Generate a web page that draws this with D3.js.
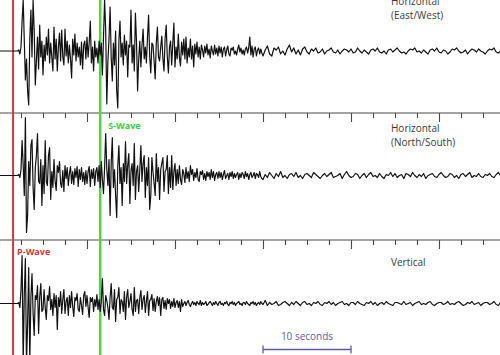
<!DOCTYPE html>
<html lang="en">
<head>
  <meta charset="UTF-8" />
  <title>Seismogram</title>
  <script src="https://d3js.org/d3.v7.min.js"></script>
  <style>
    body { margin: 0; background: #fff; }
    svg { display: block; font-family: "Open Sans", "Liberation Sans", sans-serif; }
    .trace { fill: none; stroke: #111; stroke-width: 1.2; stroke-linejoin: round; }
    .sep path, .sep line { stroke: #4a4a4a; stroke-width: 1.1; }
    .label { fill: #3a3a3a; font-size: 10px; }
  </style>
</head>
<body>
  <div id="chart"></div>

  <script>
    // amplitudes in px (up = positive)
    // burst: one sample every 0.125 s from 0 s, coda: every 0.25 s from 30 s
    const eastWestBurst = [
      0,0,0,0,0,0,0,0,0,0, 0,0,0,0,0,0,0,0,1,-3,
      4,30,51,10,-29,-8,-40,-54,12,41, -6,51,20,-34,-10,14,-18,26,-6,10,
      -24,6,-10,14,-4,22,-12,8,-6,-20, 24,-8,12,-20,4,18,-10,21,-6,-14,
      22,-5,10,-12,6,-8,-27,12,-4,17, -10,8,-6,4,-14,9,-18,6,10,-8,
      14,-6,8,30,-12,4,-20,10,-6,3, -12,10,-4,8,-24,14,51,20,-53,-10,
      12,44,-6,-30,8,-14,20,-40,-57,10, 30,-6,8,-14,16,-4,10,-26,6,4,
      41,-12,6,-20,38,10,-40,-8,10,-16, 6,22,-8,4,-12,14,36,-6,-22,8,
      6,-10,-28,8,24,-6,-10,4,15,-8, -20,12,26,-6,-22,4,10,-14,8,28,
      -16,4,-8,17,-6,-15,9,-4,12,-8, 14,-12,3,-6,12,-8,5,-16,7,-3,
      9,-6,4,-8,6,1,-6,5,-2,7, -4,2,-7,5,0,-4,6,-3,3,-5,
      5,-2,4,-6,2,4,-5,1,5,-3, -5,3,1,4,-3,0,-4,2,6,-1,
      3,-3,1,-4,2,4,-2,3,14,-4, 5,-6,2,4,-5,1,3,-3,2,-2
    ];
    const eastWestCoda = [
      -5,1,5,-3,-5,3,1,4,-3,0,
      -4,2,6,-1,3,-3,1,-4,2,4,
      -1,-3,2,0,3,-2,-1,2,-3,0,
      1,3,-1,-2,1,-3,0,2,1,-1,
      2,-2,-1,3,0,-2,1,-1,-3,1,
      2,0,3,-1,-2,0,-3,1,2,-1,
      1,3,0,-2,-1,-3,0,2,1,3,
      -1,0,-2,1,-1,-3,1,2,0,3,
      -1,-2,1,0,-3,-1,2,1,3,0,
      -2,-1,1,-3,0,2,1,-1,2,0,
      -1,-3,0,2,1,3,-1,-2,0,1
    ];
    const northSouthBurst = [
      0,0,0,0,0,0,0,0,0,0, 0,0,0,0,0,0,0,0,1,-2,
      6,35,10,-20,58,-57,-40,14,-10,30, 36,-12,-34,8,20,42,-6,-8,16,-30,
      10,-18,35,-6,-10,20,28,-24,4,-12, 16,-6,-15,10,3,14,-8,-12,5,-16,
      10,-3,8,-10,2,9,-8,4,-9,7, -2,9,-11,6,-4,8,-6,3,-9,5,
      -8,4,9,-11,6,-3,7,-10,4,8, -6,10,-12,14,-4,-18,8,42,6,-10,
      16,-40,12,38,-12,6,-20,-42,10,30, -8,8,-30,12,-6,34,-8,10,22,-28,
      5,12,-10,32,-24,4,10,-16,6,30, -6,12,20,-22,8,-10,18,-34,-20,18,
      4,-8,-20,22,-6,8,-24,6,12,18, -16,4,6,20,-18,8,-12,20,-14,4,
      12,-10,6,-8,10,-4,-9,6,2,-7, 8,-3,4,-6,10,1,6,-5,3,-2,
      7,-4,-6,4,1,5,-4,2,-5,4, -1,3,-4,6,-2,4,-5,1,3,-3,
      4,-2,3,-4,1,5,-3,0,2,-4, 3,-1,4,-3,2,-2,1,3,-4,2,
      -2,3,1,-3,4,-1,2,-4,1,3, -2,0,3,-3,2,1,-2,4,-1,-3
    ];
    const northSouthCoda = [
      -4,1,-2,3,0,-3,2,-1,4,-2,
      0,-3,1,2,-1,3,-2,0,-3,1,
      2,0,-2,3,1,-1,-3,0,2,-1,
      1,3,-2,-1,0,2,-3,1,4,0,
      -2,-1,2,1,-3,0,2,-2,1,3,
      -1,0,-2,2,-1,-3,1,0,3,-1,
      2,-2,0,1,-3,2,1,-1,3,0,
      -2,1,-1,2,-3,0,1,2,-1,-2,
      1,3,0,-2,-1,2,1,-2,0,-3,
      1,2,-1,1,3,-2,0,-1,2,-1,
      -2,1,0,2,-1,-2,1,3,0,-1
    ];
    const verticalBurst = [
      0,0,0,0,0,0,0,0,0,0, 0,0,0,0,0,0,0,0,1,-4,
      14,48,-60,10,45,-60,-20,36,-58,6, 30,-10,-32,8,4,18,-30,6,20,-8,
      -6,14,-4,-16,8,3,17,-6,4,-12, 10,-4,8,-26,6,-3,12,-10,4,14,
      -10,2,6,-12,8,-4,12,-3,-13,6, 3,10,-6,-8,6,-2,-11,8,12,-3,
      8,-4,-14,6,2,6,-8,4,-3,9, -6,4,-8,2,25,-6,-12,8,3,-4,
      -16,6,20,-4,-6,14,-18,4,6,16, -10,4,2,-8,12,-16,6,14,-4,2,
      10,-6,-12,16,-8,3,4,-10,6,13, -6,4,8,-9,2,12,-12,3,4,9,
      -7,5,-8,2,7,-2,6,-12,4,6, -5,3,-6,5,0,4,-5,2,-3,5,
      -4,1,3,-4,2,-8,4,-3,0,2, -2,1,3,-1,-3,0,2,-1,1,-2,
      2,0,-1,3,-2,1,-1,0,2,-2, -1,1,2,0,-2,1,-1,2,0,-2,
      1,2,-1,0,-2,1,0,2,-1,-2, 1,0,2,-1,1,-2,0,1,2,-1,
      0,-2,1,1,-1,2,0,-1,-2,1, 0,2,-1,1,-2,0,1,-1,2,0
    ];
    const verticalCoda = [
      -1,3,-2,1,-1,0,2,-2,-1,1,
      2,0,-2,1,-1,2,0,-2,1,2,
      -1,0,-2,1,0,2,-1,-2,1,0,
      2,-1,1,-2,0,1,2,-1,0,-2,
      1,1,-1,2,0,-1,-2,1,0,2,
      -1,1,-2,0,1,-1,2,0,-1,-2,
      1,1,0,-1,2,-1,0,1,-2,0,
      1,2,-1,0,-1,1,2,-1,-2,0,
      1,1,-1,0,2,-1,0,-1,1,2,
      0,-2,-1,1,0,2,-1,0,1,-2,
      0,1,1,-1,0,2,-1,-2,1,0
    ];
    const burstStep = 0.125, codaStep = 0.25, codaStart = 30;   // seconds
    const panelLabels = [["Horizontal", "(East/West)"], ["Horizontal", "(North/South)"], ["Vertical"]];
    const pWaveTime = 1.6;
    const sWaveTime = 11.5;
    const minorTick = 2.5, majorTick = 10;
    const scaleBar = [30, 40];          // "10 seconds"

    const width = 500, height = 355;
    const svg = d3.select("#chart").append("svg")
      .attr("width", width).attr("height", height);

    const x = d3.scaleLinear().domain([1 / 8.8, 501 / 8.8]).range([0, width]);

    function toPoints(burst, coda) {
      return burst.map((v, i) => [i * burstStep, v])
        .concat(coda.map((v, i) => [codaStart + i * codaStep, v]));
    }

    const panels = [
      { data: toPoints(eastWestBurst, eastWestCoda), base: 51, label: panelLabels[0], ly: 5 },
      { data: toPoints(northSouthBurst, northSouthCoda), base: 175.5, label: panelLabels[1], ly: 132 },
      { data: toPoints(verticalBurst, verticalCoda), base: 303.5, label: panelLabels[2], ly: 266 }
    ];

    // separator lines with second ticks
    [113, 240].forEach(yy => {
      const ax = svg.append("g").attr("class", "sep")
        .attr("transform", `translate(0,${yy})`)
        .call(d3.axisBottom(x).tickValues(d3.range(0, 57, minorTick))
          .tickSize(5).tickSizeOuter(0).tickFormat(""));
      ax.select(".domain").attr("d", `M0,0H${width}`);
      ax.selectAll(".tick line")
        .attr("y2", d => d % majorTick === 0 ? 9 : 5);
    });

    // phase arrival markers
    svg.append("line")
      .attr("x1", x(pWaveTime)).attr("x2", x(pWaveTime))
      .attr("y1", 0).attr("y2", height)
      .attr("stroke", "#d03a3a").attr("stroke-width", 2);
    svg.append("line")
      .attr("x1", x(sWaveTime)).attr("x2", x(sWaveTime))
      .attr("y1", 0).attr("y2", height)
      .attr("stroke", "#45d945").attr("stroke-width", 2.5);

    // traces
    panels.forEach(p => {
      const y = d3.scaleLinear().domain([-60, 60]).range([p.base + 60, p.base - 60]);
      const line = d3.line()
        .x(d => x(d[0]))
        .y(d => y(d[1]));
      svg.append("path").datum(p.data).attr("class", "trace").attr("d", line);

      p.label.forEach((txt, k) => {
        svg.append("text").attr("class", "label")
          .attr("x", 391).attr("y", p.ly + k * 14).text(txt);
      });
    });

    svg.append("text")
      .attr("x", x(sWaveTime) + 8).attr("y", 128.5)
      .attr("fill", "#3ccc3c").attr("font-size", 9).attr("font-weight", "bold")
      .text("S-Wave");
    svg.append("text")
      .attr("x", x(pWaveTime) + 4).attr("y", 254.5)
      .attr("fill", "#d03a3a").attr("font-size", 9).attr("font-weight", "bold")
      .text("P-Wave");

    // scale bar
    const barColor = "#5b5bb0";
    const bar = svg.append("g").attr("stroke", barColor).attr("stroke-width", 1.3);
    bar.append("line").attr("x1", x(scaleBar[0])).attr("x2", x(scaleBar[1]))
      .attr("y1", 349.5).attr("y2", 349.5);
    scaleBar.forEach(t => {
      bar.append("line").attr("x1", x(t)).attr("x2", x(t))
        .attr("y1", 345.5).attr("y2", 353.5);
    });
    svg.append("text")
      .attr("x", (x(scaleBar[0]) + x(scaleBar[1])) / 2).attr("y", 340)
      .attr("text-anchor", "middle").attr("fill", barColor).attr("font-size", 10)
      .text("10 seconds");
  </script>
</body>
</html>
